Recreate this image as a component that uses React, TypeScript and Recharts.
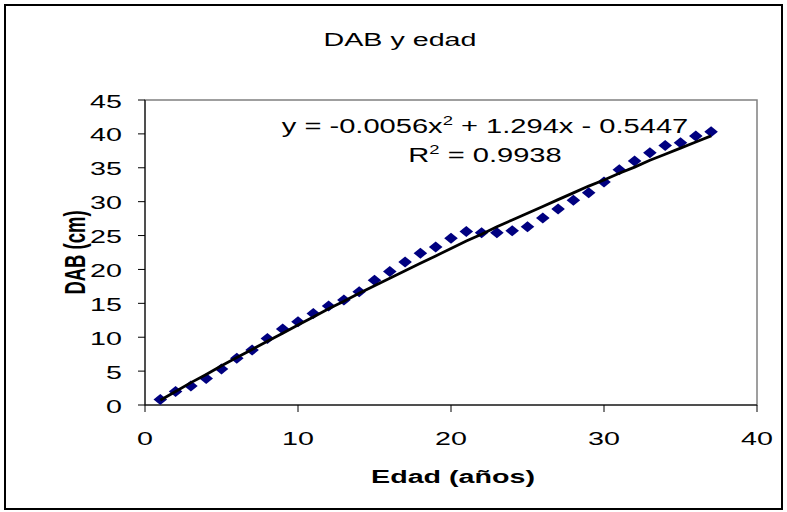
import React from 'react';
import { ScatterChart, Scatter, XAxis, YAxis, ReferenceArea, Label } from 'recharts';

const ages = [1, 2, 3, 4, 5, 6, 7, 8, 9, 10, 11, 12, 13, 14, 15, 16, 17, 18, 19, 20, 21, 22, 23, 24, 25, 26, 27, 28, 29, 30, 31, 32, 33, 34, 35, 36, 37];
const dab = [0.8, 2.0, 2.8, 3.9, 5.3, 6.9, 8.1, 9.8, 11.2, 12.3, 13.5, 14.6, 15.5, 16.7, 18.4, 19.7, 21.1, 22.4, 23.3, 24.6, 25.6, 25.4, 25.4, 25.7, 26.3, 27.6, 28.9, 30.2, 31.3, 32.9, 34.7, 36.0, 37.2, 38.3, 38.7, 39.7, 40.3];
const fitted = [0.7, 2.0, 3.3, 4.5, 5.8, 7.0, 8.2, 9.4, 10.6, 11.8, 13.0, 14.2, 15.3, 16.5, 17.6, 18.7, 19.8, 20.9, 22.0, 23.1, 24.2, 25.2, 26.3, 27.3, 28.3, 29.3, 30.3, 31.3, 32.3, 33.2, 34.2, 35.1, 36.1, 37.0, 37.9, 38.8, 39.7];
const xTicks = [0, 10, 20, 30, 40];
const yTicks = [0, 5, 10, 15, 20, 25, 30, 35, 40, 45];
const title = 'DAB y edad';
const xTitle = 'Edad (años)';
const yTitle = 'DAB (cm)';
const eqMain = 'y = -0.0056x';
const eqRest = ' + 1.294x - 0.5447';
const r2Value = ' = 0.9938';

const points = ages.map((a, i) => ({ x: a, y: dab[i] }));
const fitPts = ages.map((a, i) => ({ x: a, y: fitted[i] }));

const SX = 1.55;
const FS = 18.5;
const FONT = '"Liberation Sans", Arial, Helvetica, sans-serif';

const Diamond = (props: any) => {
  const { cx, cy } = props;
  if (cx == null || cy == null) return <g />;
  return (
    <polygon
      points={`${cx},${cy - 5.5} ${cx + 6.8},${cy} ${cx},${cy + 5.5} ${cx - 6.8},${cy}`}
      fill="#000080"
    />
  );
};
const NoShape = () => <g />;

const XTick = (props: any) => {
  const { x, y, payload } = props;
  return (
    <g transform={`translate(${x},${y})`}>
      <text transform={`scale(${SX},1)`} textAnchor="middle" dy={31} fontSize={FS} fontFamily={FONT} fill="#000">
        {payload.value}
      </text>
    </g>
  );
};

const YTick = (props: any) => {
  const { x, y, payload } = props;
  return (
    <g transform={`translate(${x},${y})`}>
      <text transform={`scale(${SX},1)`} textAnchor="end" dy={7.5} fontSize={FS} fontFamily={FONT} fill="#000">
        {payload.value}
      </text>
    </g>
  );
};

const XTitle = (props: any) => {
  const vb = props.viewBox || {};
  const cx = vb.x + vb.width / 2 + 2;
  return (
    <g transform={`translate(${cx},483)`}>
      <text transform={`scale(${SX},1)`} textAnchor="middle" fontSize={FS} fontWeight="bold" fontFamily={FONT} fill="#000">
        {xTitle}
      </text>
    </g>
  );
};

const YTitle = (props: any) => {
  const vb = props.viewBox || {};
  const cy = vb.y + vb.height / 2;
  return (
    <g transform={`translate(85,${cy}) rotate(-90) scale(1,${SX})`}>
      <text textAnchor="middle" fontSize={FS} fontWeight="bold" fontFamily={FONT} fill="#000">
        {yTitle}
      </text>
    </g>
  );
};

export default function App() {
  return (
    <div style={{ position: 'absolute', left: 0, top: 0, width: 787, height: 512, background: '#fff' }}>
      <ScatterChart width={787} height={512} margin={{ top: 100, right: 30, bottom: 0, left: 0 }}>
        <XAxis
          type="number"
          dataKey="x"
          domain={[0, 40]}
          ticks={xTicks}
          interval={0}
          height={107}
          axisLine={{ stroke: '#000', strokeWidth: 1 }}
          tickLine={{ stroke: '#000', strokeWidth: 1 }}
          tickSize={7}
          tick={<XTick />}
        >
          <Label content={<XTitle />} />
        </XAxis>
        <YAxis
          type="number"
          dataKey="y"
          domain={[0, 45]}
          ticks={yTicks}
          interval={0}
          width={145}
          axisLine={{ stroke: '#000', strokeWidth: 1 }}
          tickLine={{ stroke: '#000', strokeWidth: 1 }}
          tickSize={7}
          tickMargin={16}
          tick={<YTick />}
        >
          <Label content={<YTitle />} />
        </YAxis>
        <ReferenceArea x1={0} x2={40} y1={0} y2={45} fill="none" stroke="#808080" strokeWidth={1.5} ifOverflow="visible" />
        <Scatter data={points} shape={<Diamond />} isAnimationActive={false} />
        <Scatter
          data={fitPts}
          shape={<NoShape />}
          line={{ stroke: '#000', strokeWidth: 2.8 }}
          lineType="joint"
          isAnimationActive={false}
        />
      </ScatterChart>
      <svg width={787} height={512} style={{ position: 'absolute', left: 0, top: 0, pointerEvents: 'none' }}>
        <rect x={5} y={5} width={777} height={504} fill="none" stroke="#000" strokeWidth={2} />
        <g transform="translate(400,46)">
          <text transform={`scale(${SX},1)`} textAnchor="middle" fontSize={FS} fontFamily={FONT} fill="#000">
            {title}
          </text>
        </g>
        <g transform="translate(485,133)">
          <text transform="scale(1.42,1)" textAnchor="middle" fontSize={20.5} fontFamily={FONT} fill="#000">
            {eqMain}
            <tspan dy={-8} fontSize={13}>2</tspan>
            <tspan dy={8}>{eqRest}</tspan>
          </text>
        </g>
        <g transform="translate(485,162)">
          <text transform="scale(1.42,1)" textAnchor="middle" fontSize={20.5} fontFamily={FONT} fill="#000">
            R<tspan dy={-8} fontSize={13}>2</tspan>
            <tspan dy={8}>{r2Value}</tspan>
          </text>
        </g>
      </svg>
    </div>
  );
}
